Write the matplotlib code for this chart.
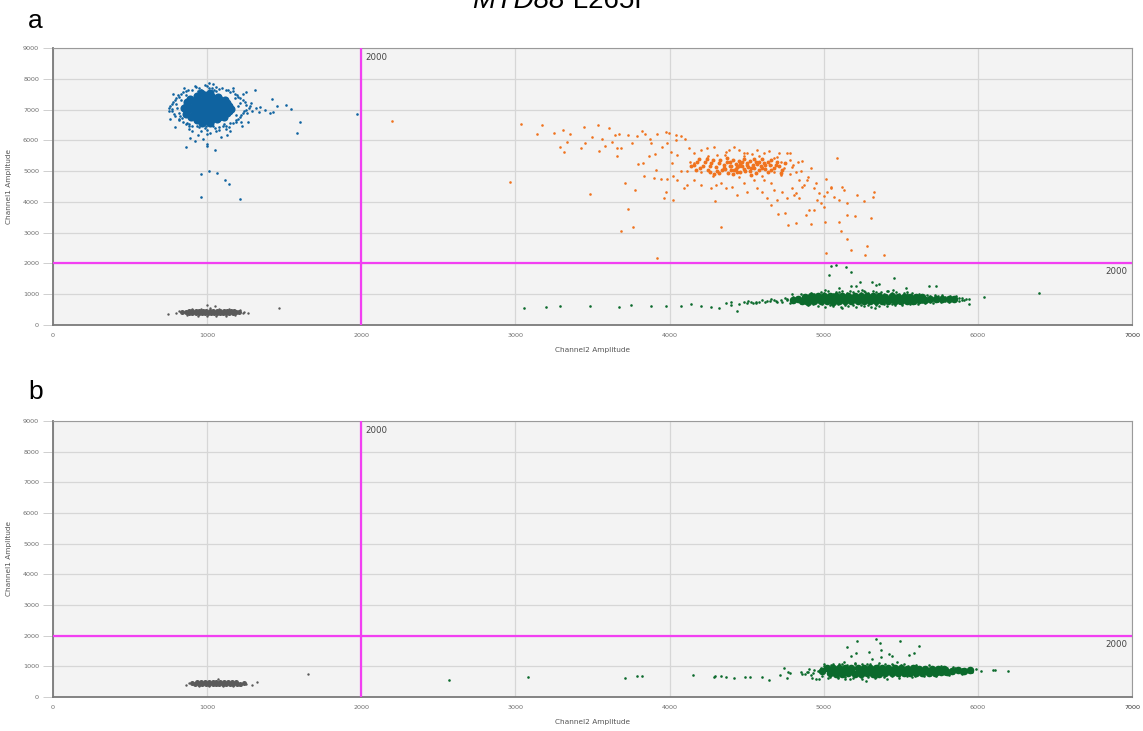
import matplotlib
matplotlib.use("Agg")
import matplotlib.pyplot as plt

# ---- panel a : droplet amplitudes ----
# FAM+/HEX- (blue) dense core + scattered droplets
blue_core_x = [935, 985, 1030, 1070, 870, 915, 962, 1005, 1052, 1095, 1130,
               852, 897, 940, 987, 1030, 1077, 1118, 1155, 866, 912, 955, 1002,
               1046, 1088, 1128, 932, 978, 1022, 1062,
               890, 940, 985, 1030, 1075, 1115,
               870, 918, 963, 1008, 1053, 1098, 1140,
               870, 918, 963, 1008, 1053, 1098, 1140,
               895, 940, 985, 1030, 1075, 1110,
               960, 1020, 965, 1020]
blue_core_y = [7430, 7460, 7420, 7400, 7230, 7260, 7250, 7280, 7240, 7220, 7200,
               7040, 7060, 7030, 7070, 7050, 7040, 7060, 7030, 6860, 6840, 6870,
               6850, 6860, 6840, 6880, 6670, 6640, 6660, 6690,
               7340, 7350, 7330, 7360, 7340, 7320,
               7145, 7150, 7140, 7160, 7145, 7130, 7120,
               6950, 6940, 6960, 6950, 6940, 6960, 6950,
               6755, 6750, 6760, 6750, 6760, 6770,
               7530, 7540, 6570, 6560]
blue_x = [900, 950, 1000, 1030, 1080, 1120, 860, 960, 1060, 1150, 830, 1180,
          1200, 1230, 1250, 1270, 1240, 1220, 1200, 1260, 1210, 1190,
          1150, 1100, 1050, 1000, 950, 900, 860, 1080, 960, 1020, 880, 1120,
          820, 790, 770, 760, 780, 800, 810, 840, 795, 815,
          845, 875, 925, 985, 1015, 1045, 1095, 1135, 1165, 1195, 1215, 1245,
          1275, 1255, 1235, 1215, 1185, 1165, 1125, 1075, 1035, 985, 935, 885,
          845, 815, 785, 775, 770, 790, 815, 830, 805, 825, 870, 990, 1110,
          1190, 1200, 1180, 1060, 940, 860, 880, 1140, 755, 1285, 1290, 1000,
          940, 1060, 900, 1150, 1170, 850, 780, 760, 1220, 1230, 1010,
          918, 1041, 1312, 1253, 1422, 1455, 1513, 1545, 1316, 1344, 1377,
          1409, 1427, 1338, 1604, 1580, 1972, 1264, 1227, 1130, 1093, 1052,
          1002, 1000, 864, 970, 918, 890, 792, 753, 1013, 959, 1063, 1117,
          1139, 963, 1212]
blue_y = [7650, 7700, 7750, 7690, 7670, 7620, 7600, 7640, 7740, 7580, 7520, 7520,
          7400, 7300, 7150, 7050, 6950, 6820, 6700, 6880, 7200, 6600,
          6550, 6450, 6400, 6350, 6420, 6470, 6540, 6330, 6300, 6250, 6380, 6380,
          6650, 6800, 6950, 7100, 7250, 7380, 7480, 6720, 7180, 6900,
          7560, 7640, 7720, 7790, 7710, 7650, 7700, 7650, 7590, 7480, 7380, 7260,
          7120, 7000, 6880, 6760, 6650, 6560, 6480, 6420, 6460, 6410, 6470, 6520,
          6600, 6700, 6850, 7020, 7180, 7320, 7420, 7300, 7050, 6800, 6560, 6480,
          6540, 6820, 7100, 7380, 7600, 7600, 7480, 6450, 6420, 6960, 7200, 6950,
          6200, 6180, 6300, 6300, 6300, 7700, 7700, 7500, 6700, 6600, 7500, 7850,
          7770, 7825, 7630, 7565, 7350, 7120, 7155, 7010, 7055, 7080, 7000,
          6890, 6915, 6905, 6580, 6230, 6860, 6580, 6475, 6160, 6115, 5670,
          5875, 5815, 5770, 6030, 5985, 6070, 6435, 7065, 5000, 4915, 4950, 4725,
          4565, 4175, 4110]

# FAM+/HEX+ (orange)
orange_core_x = [4180, 4220, 4250, 4270, 4300, 4310, 4330, 4350, 4360, 4380, 4390,
                 4400, 4420, 4430, 4440, 4450, 4460, 4470, 4480, 4500, 4510, 4520,
                 4540, 4550, 4560, 4580, 4590, 4610, 4620, 4640, 4650, 4680, 4700,
                 4200, 4240, 4160, 4290, 4410, 4530, 4600, 4370, 4480, 4260, 4340,
                 4460, 4570, 4430, 4390, 4520, 4660,
                 4140, 4170, 4190, 4230, 4260, 4280, 4320, 4320, 4350, 4370, 4400,
                 4410, 4440, 4450, 4470, 4490, 4500, 4530, 4550, 4560, 4580, 4600,
                 4620, 4640, 4660, 4690, 4710, 4730, 4750, 4720]
orange_core_y = [5300, 5180, 5050, 5250, 5130, 4990, 5350, 5200, 5080, 4950, 5280,
                 5150, 5030, 5220, 5120, 5330, 4980, 5180, 5070, 5260, 5140, 4990,
                 5200, 5090, 5310, 5020, 5160, 5250, 5080, 4960, 5190, 5100, 5280,
                 5100, 5380, 5200, 4900, 4890, 4880, 5380, 5420, 5400, 4960, 5020,
                 5240, 5230, 5080, 5180, 5330, 5350,
                 5150, 5050, 5400, 5280, 5150, 5350, 5250, 4950, 5100, 5300, 5050,
                 5360, 4970, 5170, 5300, 5000, 5200, 5100, 5380, 4950, 5300, 5100,
                 5200, 5300, 5050, 5200, 5150, 5050, 5250, 4950]
orange_x = [3037, 3173, 3141, 3253, 3310, 3357, 3444, 3535, 3610, 3286, 3314, 3426,
            3335, 3450, 3498, 3541, 3563, 3584, 3628, 3649, 3656, 3656, 3682, 3671,
            3732, 3758, 3790, 3818, 3838, 3870, 3881, 3920, 3974, 3996, 4039, 4071,
            4097, 4039, 3985, 3953, 3905, 3866, 3827, 3794, 3909, 3833, 3898, 3942,
            3981, 4024, 3974, 3963, 4024, 3710, 3775, 3483, 3729, 3682, 3764, 3920,
            2968, 4331, 4294, 2200,
            4158, 4201, 4245, 4288, 4385, 4418, 4483, 4537, 4612, 4645, 4764, 4784,
            4862, 4916, 5089, 5013, 5121, 5131, 5045, 5099, 5154, 5219, 5262, 5327,
            5317, 5149, 5203, 5305, 5099, 5006, 5110, 5154, 5279, 5175, 5266, 5392,
            5013, 4916, 4818, 4768, 4703, 4747, 4656, 4840, 4883, 4905, 4938, 5002,
            4959, 5067, 5024, 4937, 4970, 4862, 4840, 4894, 4797, 4808, 4764, 4732,
            4699, 4678, 4634, 4656, 4601, 4612, 4569, 4547, 4504, 4483, 4440, 4407,
            4364, 4331, 4299, 4266, 4201, 4158, 4115, 4093, 4050, 4071, 4017, 4050,
            4007, 4125, 4158, 4201, 4245, 4310, 4364, 4450, 4504, 4569, 4678, 4720,
            4742, 4797, 4818, 4720, 4678, 4830, 4784, 4710, 4656,
            4130, 4110, 4250, 4360, 4480, 4580, 4700, 4280, 4450, 4600, 4780, 4800,
            4850, 4900, 4950, 5050, 4870, 5000, 4980, 4820]
orange_y = [6515, 6494, 6212, 6245, 6320, 6190, 6440, 6494, 6407, 5790, 5628, 5736,
            5952, 5920, 6115, 5660, 6028, 5822, 5952, 6169, 5757, 5498, 5736, 6190,
            6169, 5920, 6136, 6299, 6212, 6028, 5920, 6201, 6256, 6223, 6169, 6136,
            6028, 6006, 5920, 5790, 5541, 5487, 5270, 5216, 5032, 4838, 4762, 4730,
            4730, 4838, 4329, 4113, 4058, 4600, 4383, 4253, 3777, 3052, 3193, 2186,
            4653, 3182, 4026, 6620,
            5249, 4978, 5411, 5790, 5682, 5790, 5574, 5541, 5574, 5660, 5574, 5574,
            5335, 5086, 5422, 4730, 4491, 4383, 4437, 4058, 3950, 4221, 4037, 4329,
            4145, 3571, 3550, 3463, 3344, 3344, 3052, 2782, 2565, 2424, 2262, 2273,
            2327, 3279, 3301, 3236, 3604, 3647, 3896, 4113, 3571, 3723, 3734, 3842,
            4058, 4167, 4329, 4437, 4275, 4491, 4708, 4708, 4437, 4221, 4113, 4329,
            4058, 4383, 4113, 4600, 4329, 4708, 4437, 4708, 4329, 4600, 4221, 4491,
            4437, 4600, 4546, 4437, 4546, 4708, 4546, 4437, 4708, 5010, 5250, 5520,
            5630, 5740, 5574, 5682, 5736, 5520, 5630, 5682, 5574, 5682, 5411, 5300,
            5086, 5140, 4978, 4870, 4978, 5300, 5357, 5574, 5195,
            5300, 5000, 5500, 5520, 5500, 5480, 5450, 4850, 4800, 4850, 4900, 5200,
            5000, 4800, 4600, 4500, 4550, 4200, 3950, 4300]

# FAM-/HEX+ (green)
green_a_core_x = [4880, 4920, 4960, 5000, 5040, 5080, 5120, 5160, 5200, 5240, 5280,
                  5320, 5360, 5400, 5440, 5480, 5520, 5560, 5600, 5640,
                  4860, 4900, 4940, 4980, 5020, 5060, 5100, 5140, 5180, 5220, 5260,
                  5300, 5340, 5380, 5420, 5460, 5500, 5540, 5580, 5620, 5660,
                  5690, 5730, 5770, 5810, 5845, 4800, 4830,
                  4900, 4960, 5020, 5080, 5140, 5200, 5260, 5320, 5380, 5440, 5500,
                  5560, 5620]
green_a_core_y = [920, 930, 935, 940, 930, 945, 935, 940, 930, 945, 935, 930, 940,
                  925, 930, 920, 915, 910, 905, 900,
                  770, 760, 775, 765, 770, 760, 775, 765, 770, 775, 780, 770, 785,
                  775, 780, 790, 785, 795, 790, 800, 810,
                  850, 855, 850, 860, 855, 820, 830,
                  845, 850, 855, 850, 855, 850, 855, 860, 855, 855, 855, 855, 855]
green_a_x = [4850, 4920, 4980, 5030, 5080, 5120, 5170, 5220, 5270, 5320, 5370, 5420,
             5470, 5520, 5570, 5620, 5670, 5720, 5770, 5820, 5860,
             4850, 4900, 4960, 5010, 5060, 5110, 5160, 5210, 5260, 5310, 5360, 5410,
             5460, 5510, 5560, 5610, 5660, 5710, 5760, 5810, 5880,
             4870, 4940, 5000, 5060, 5100, 5150, 5190, 5240, 5290, 5340, 5390, 5440,
             5490, 5540, 5590, 5640, 5690, 5740, 5790, 5840, 5880, 5920,
             4880, 4930, 4990, 5040, 5090, 5140, 5190, 5240, 5290, 5340, 5390, 5440,
             5490, 5540, 5590, 5640, 5690, 5740, 5790, 5840, 5900,
             4760, 4730, 4690, 4660, 4630, 4560, 4500, 5010, 5250, 5450, 5120, 5330,
             4700, 4720, 4750, 4780, 4800, 4760, 4680, 4650, 4620, 4600, 4580,
             4540, 4510, 4480, 4450, 4400, 4364, 4320, 4266, 4201, 4136, 4071,
             3974, 3877, 3747, 3669, 3487, 3292, 3201, 3058, 4396, 4440, 4526, 4558,
             5050, 5078, 5147, 5175, 5035, 5455, 5180, 5212, 5236, 5315, 5340, 5359,
             5533, 5685, 5727, 5262, 5412, 4796, 5099, 5540,
             5943, 5943, 6041, 6398, 5900, 5910]
green_a_y = [1000, 1040, 1080, 1100, 1060, 1110, 1090, 1120, 1080, 1100, 1070, 1090,
             1060, 1050, 1030, 1010, 990, 970, 960, 950, 930,
             700, 650, 620, 600, 630, 590, 610, 580, 620, 600, 630, 610, 640, 660,
             670, 690, 700, 720, 740, 760, 790,
             960, 1000, 1040, 1010, 1060, 1040, 1070, 1050, 1030, 1060, 1020, 1040,
             1010, 1000, 980, 970, 950, 930, 920, 900, 880, 860,
             720, 690, 680, 660, 670, 650, 660, 640, 660, 650, 670, 680,
             700, 710, 720, 740, 760, 780, 790, 800, 820,
             850, 760, 790, 840, 770, 740, 720, 1150, 1150, 1130, 560, 560,
             760, 820, 880, 720, 900, 800, 820, 780, 740, 800, 760,
             700, 780, 740, 690, 760, 705, 542, 594, 617, 680, 617,
             617, 617, 650, 584, 617, 617, 584, 552, 650, 455, 760, 705,
             1925, 1965, 1870, 1730, 1623, 1515, 1266, 1266, 1385, 1385, 1300, 1330,
             1210, 1266, 1266, 1104, 1104, 995, 1190, 1080,
             834, 672, 919, 1029, 880, 820]

# FAM-/HEX- (grey)
grey_a_core_x = [835, 860, 885, 905, 925, 945, 965, 985, 1005, 1025, 1045, 1065,
                 1085, 1105, 1125, 1145, 1165, 1185, 1205,
                 880, 905, 928, 950, 972, 995, 1018, 1040, 1062, 1085, 1108, 1130,
                 1152, 1175]
grey_a_core_y = [420, 410, 400, 395, 400, 390, 395, 400, 390, 395, 400, 395, 390,
                 400, 395, 405, 400, 410, 420,
                 455, 460, 450, 465, 455, 470, 460, 455, 465, 460, 450, 455, 450, 445]
grey_a_x = [749, 1264, 1463, 1002, 1052, 800, 820, 1230, 1240, 900, 960, 1020,
            1080, 1140, 940, 1000, 1060, 1120, 1180, 870, 1210]
grey_a_y = [367, 400, 562, 650, 627, 390, 460, 380, 430, 520, 530, 540, 525, 510,
            300, 290, 300, 305, 320, 330, 500]

# ---- panel b ----
green_b_core_x = [5020, 5060, 5100, 5140, 5180, 5220, 5260, 5300, 5340, 5380, 5420,
                  5460, 5500, 5540, 5580, 5620, 5660, 5700, 5740, 5780,
                  5040, 5080, 5120, 5160, 5200, 5240, 5280, 5320, 5360, 5400, 5440,
                  5480, 5520, 5560, 5600, 5640, 5680, 5720, 5760, 5800,
                  5830, 5870, 5910, 5950, 4990,
                  5060, 5120, 5180, 5240, 5300, 5360, 5420, 5480, 5540, 5600, 5660,
                  5720, 5780]
green_b_core_y = [930, 935, 940, 935, 945, 940, 935, 940, 945, 935, 940, 930, 935,
                  925, 930, 925, 920, 915, 910, 905,
                  770, 765, 760, 770, 765, 760, 770, 765, 760, 770, 775, 770, 780,
                  775, 780, 785, 790, 795, 800, 810,
                  860, 865, 860, 870, 840,
                  850, 855, 850, 855, 850, 855, 850, 855, 850, 855, 855, 855, 860]
green_b_x = [5219, 5342, 5366, 5496, 5154, 5619, 5208, 5294, 5374, 5180, 5424, 5446,
             5554, 5587, 5132, 5316, 5478, 5370, 5273, 5136,
             6019, 6095, 6110, 6197,
             4292, 4335, 4418, 4522, 4597, 4645, 4714, 4743, 4766, 4760, 4779,
             4861, 4894, 4916, 4926, 4948, 4970, 4937, 4905,
             2567, 3084, 3708, 3786, 3818, 4149, 4286, 4364, 4487,
             5000, 5060, 5120, 5200, 5280, 5360, 5440, 5520, 5600, 5680, 5760, 5840,
             5030, 5090, 5170, 5250, 5330, 5410, 5490, 5570, 5650, 5730, 5810, 5900,
             5960, 5990,
             5000, 5050, 5100, 5150, 5200, 5250, 5300, 5350, 5400, 5450, 5500, 5550,
             5600, 5650, 5700, 5750, 5800, 5850, 5900, 5950,
             4990, 5040, 5090, 5140, 5190, 5240, 5290, 5340, 5390, 5440, 5490, 5540,
             5590, 5640, 5690, 5740, 5790, 5840, 5890, 5940,
             4960, 4930, 4900, 4880, 4850, 4980]
green_b_y = [1834, 1879, 1769, 1834, 1638, 1671, 1443, 1476, 1531, 1335, 1401, 1335,
             1368, 1423, 1150, 1228, 1150, 1300, 521, 576,
             857, 879, 879, 857,
             684, 684, 609, 661, 641, 554, 717, 935, 820, 609, 782,
             749, 824, 717, 609, 576, 576, 890, 901,
             554, 651, 619, 684, 684, 717, 651, 651, 651,
             1060, 1080, 1090, 1100, 1070, 1110, 1090, 1060, 1050, 1030, 1000, 970,
             620, 610, 590, 600, 620, 600, 630, 650, 670, 690, 720, 760,
             820, 900,
             1000, 1030, 1060, 1050, 1080, 1060, 1090, 1050, 1070, 1040, 1030, 1010,
             1000, 990, 970, 960, 950, 930, 910, 900,
             700, 660, 650, 640, 630, 650, 640, 660, 650, 670, 680, 690,
             700, 720, 730, 750, 760, 780, 790, 800,
             850, 780, 830, 760, 800, 950]

grey_b_core_x = [900, 922, 945, 968, 990, 1012, 1035, 1058, 1080, 1102, 1125, 1148,
                 1170, 1192, 1215, 1238,
                 935, 960, 985, 1010, 1035, 1060, 1085, 1110, 1135, 1160, 1185]
grey_b_core_y = [445, 435, 425, 420, 425, 420, 415, 420, 425, 420, 425, 420, 430,
                 430, 440, 450,
                 480, 485, 490, 485, 480, 490, 485, 480, 485, 480, 475]
grey_b_x = [864, 1290, 1323, 1073, 1654, 880, 1255, 950, 1010, 1100, 1170, 1220]
grey_b_y = [391, 381, 498, 586, 749, 470, 410, 360, 350, 355, 365, 380]

ticks = [0, 1000, 2000, 3000, 4000, 5000, 6000, 7000, 8000, 9000]
threshold_ch1 = 2000
threshold_ch2 = 2000

BLUE = "#0f63a0"
ORANGE = "#f0731e"
GREEN = "#0b6a2c"
GREY = "#5a5a5a"
PINK = "#f23ff2"
TICK = "#6e6e6e"

W, H = 1143, 731
fig = plt.figure(figsize=(W / 100, H / 100), dpi=100)


def style_axes(ax):
    ax.set_facecolor("#f3f3f3")
    ax.set_xlim(0, 7000)
    ax.set_ylim(0, 9000)
    ax.set_xticks(ticks[:8])
    ax.set_yticks(ticks)
    ax.grid(True, color="#d6d6d6", lw=0.9)
    ax.set_axisbelow(True)
    ax.tick_params(axis="both", labelsize=4.6, colors=TICK, labelcolor=TICK,
                   width=0.6, pad=3)
    ax.tick_params(axis="y", length=7, color="#c8c8c8")
    ax.tick_params(axis="x", length=0, pad=6)
    # last x label is drawn darker in the original
    ax.get_xticklabels()[-1].set_color("#333333")
    for s in ["left", "bottom"]:
        ax.spines[s].set_color("#7a7a7a")
        ax.spines[s].set_linewidth(1.3)
    for s in ["top", "right"]:
        ax.spines[s].set_color("#9a9a9a")
        ax.spines[s].set_linewidth(0.8)
    ax.set_xlabel("Channel2 Amplitude", fontsize=5.3, color="#555555", labelpad=6)
    ax.set_ylabel("Channel1 Amplitude", fontsize=5.3, color="#555555", labelpad=8)
    ax.axvline(threshold_ch2, color=PINK, lw=1.6, zorder=5)
    ax.axhline(threshold_ch1, color=PINK, lw=1.6, zorder=5)
    ax.text(threshold_ch2 + 25, 8850, str(threshold_ch2), fontsize=6.2,
            color="#444444", va="top", ha="left")
    ax.text(6970, threshold_ch1 - 130, str(threshold_ch1), fontsize=6.2,
            color="#444444", va="top", ha="right")


def px_rect(left, top, right, bottom):
    return [left / W, 1 - bottom / H, (right - left) / W, (bottom - top) / H]


ax_a = fig.add_axes(px_rect(53, 48, 1132, 325))
style_axes(ax_a)
ax_a.scatter(grey_a_core_x, grey_a_core_y, s=13, c=GREY, lw=0, zorder=3)
ax_a.scatter(grey_a_x, grey_a_y, s=3, c=GREY, lw=0, zorder=3)
ax_a.scatter(green_a_core_x, green_a_core_y, s=30, c=GREEN, lw=0, zorder=3)
ax_a.scatter(green_a_x, green_a_y, s=3.5, c=GREEN, lw=0, zorder=3)
ax_a.scatter(orange_core_x, orange_core_y, s=8, c=ORANGE, lw=0, zorder=3)
ax_a.scatter(orange_x, orange_y, s=3.5, c=ORANGE, lw=0, zorder=3)
ax_a.scatter(blue_core_x, blue_core_y, s=34, c=BLUE, lw=0, zorder=3)
ax_a.scatter(blue_x, blue_y, s=3.5, c=BLUE, lw=0, zorder=3)

ax_b = fig.add_axes(px_rect(53, 421, 1132, 697))
style_axes(ax_b)
ax_b.scatter(grey_b_core_x, grey_b_core_y, s=13, c=GREY, lw=0, zorder=3)
ax_b.scatter(grey_b_x, grey_b_y, s=3, c=GREY, lw=0, zorder=3)
ax_b.scatter(green_b_core_x, green_b_core_y, s=30, c=GREEN, lw=0, zorder=3)
ax_b.scatter(green_b_x, green_b_y, s=3.5, c=GREEN, lw=0, zorder=3)

# panel letters + title (title is partly cut at the top like the original)
fig.text(28 / W, 1 - 28 / H, "a", fontsize=19, family="Liberation Sans",
         va="baseline", ha="left")
fig.text(28 / W, 1 - 399 / H, "b", fontsize=19, family="Liberation Sans",
         va="baseline", ha="left")
fig.text(565 / W, 1 - 8 / H, "MYD88", fontsize=20, family="Liberation Sans",
         style="italic", va="baseline", ha="right")
fig.text(565 / W, 1 - 8 / H, " L265P", fontsize=20, family="Liberation Sans",
         va="baseline", ha="left")

fig.savefig("out.png", dpi=100)
